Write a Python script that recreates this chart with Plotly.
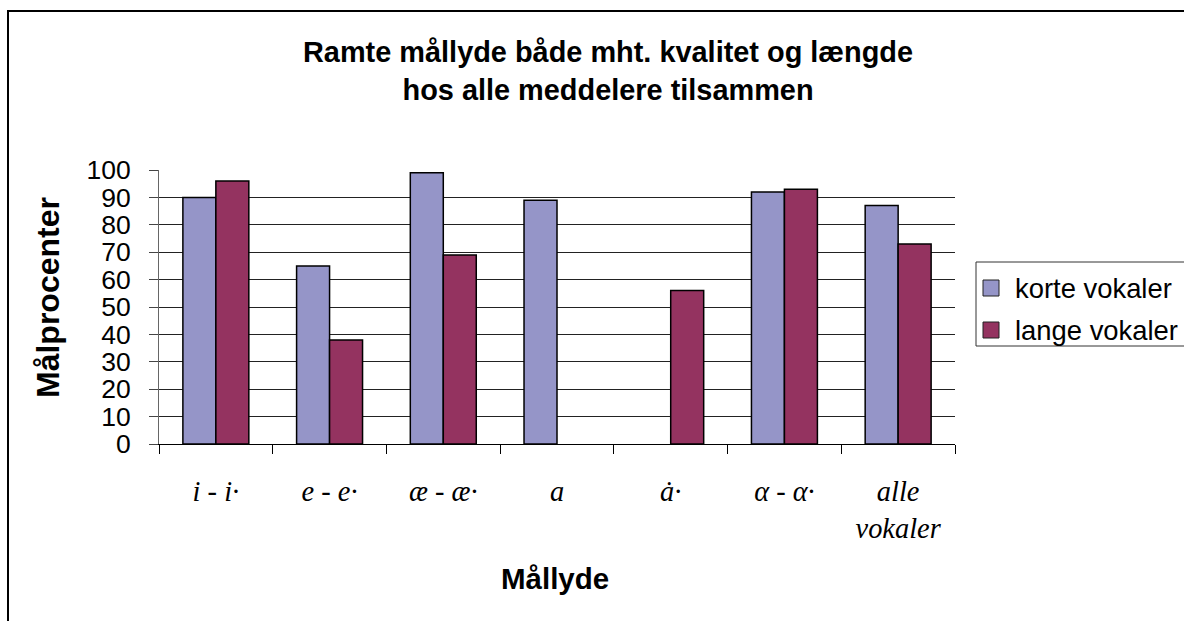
import plotly.graph_objects as go

categories = ["i - i·", "e - e·", "æ - æ·", "a", "ȧ·", "α - α·", "alle<br>vokaler"]
series_names = ["korte vokaler", "lange vokaler"]
korte = [90, 65, 99, 89, None, 92, 87]
lange = [96, 38, 69, None, 56, 93, 73]
y_ticks = [0, 10, 20, 30, 40, 50, 60, 70, 80, 90, 100]
colors = ["#9595C8", "#943360"]

W, H = 1184, 621
L, R, T, B = 159, 955, 170, 444
pw, ph = R - L, B - T

def px(x):
    return (x - L) / pw

def py(y):
    return (B - y) / ph

fig = go.Figure()
for name, vals, col in zip(series_names, [korte, lange], colors):
    fig.add_trace(go.Bar(
        x=categories, y=vals, name=name,
        marker=dict(color=col, line=dict(color="black", width=1.5)),
        showlegend=False,
    ))

fig.update_layout(
    width=W, height=H,
    margin=dict(l=L, r=W - R, t=T, b=H - B, autoexpand=False),
    paper_bgcolor="white", plot_bgcolor="white",
    barmode="group", bargap=0.42, bargroupgap=0,
    font=dict(family="Arial, Liberation Sans, sans-serif", color="black"),
)

fig.update_xaxes(
    type="category", tickson="boundaries", ticks="outside", ticklen=9,
    tickcolor="black", showline=True, linecolor="black", linewidth=1,
    showgrid=False,
    tickfont=dict(family="Liberation Serif, Times New Roman, serif", size=28.4, style="italic"),
    ticklabelstandoff=22,
)
fig.update_yaxes(
    range=[0, 100], tickvals=y_ticks, ticks="outside", ticklen=9,
    tickcolor="#444", showline=True, linecolor="#666", linewidth=1,
    showgrid=True, gridcolor="#222", gridwidth=1,
    tickfont=dict(size=26.5), ticklabelstandoff=13, zeroline=False,
)

# titles
fig.add_annotation(
    text="<b>Ramte mållyde både mht. kvalitet og længde<br>hos alle meddelere tilsammen</b>",
    x=px(608), y=py(71), xref="paper", yref="paper", showarrow=False,
    font=dict(size=28.9), xanchor="center", yanchor="middle",
)
fig.add_annotation(
    text="<b>Mållyde</b>", x=px(555), y=py(578), xref="paper", yref="paper",
    showarrow=False, font=dict(size=29.5), xanchor="center", yanchor="middle",
)
fig.add_annotation(
    text="<b>Målprocenter</b>", x=px(48), y=py(298), xref="paper", yref="paper",
    showarrow=False, font=dict(size=32), textangle=-90,
    xanchor="center", yanchor="middle",
)

# outer chart frame
fig.add_shape(
    type="rect", xref="paper", yref="paper",
    x0=px(8), x1=px(1200), y0=py(640), y1=py(11),
    line=dict(color="black", width=2), fillcolor="rgba(0,0,0,0)", layer="below",
)

# legend box
fig.add_shape(
    type="rect", xref="paper", yref="paper",
    x0=px(976), x1=px(1195), y0=py(346), y1=py(262),
    line=dict(color="#333", width=1), fillcolor="white",
)
for i, (name, col) in enumerate(zip(series_names, colors)):
    cy = 288 + 42 * i
    fig.add_shape(
        type="rect", xref="paper", yref="paper",
        x0=px(983), x1=px(999), y0=py(cy + 8), y1=py(cy - 8),
        line=dict(color="#222", width=1), fillcolor=col,
    )
    fig.add_annotation(
        text=name, x=px(1013), y=py(cy), xref="paper", yref="paper",
        showarrow=False, font=dict(size=27.4), xanchor="left", yanchor="middle",
    )

fig.write_html(
    "out.html",
    config={"displayModeBar": False},
    post_script="document.body.style.margin='0';document.body.style.overflow='hidden';",
)
